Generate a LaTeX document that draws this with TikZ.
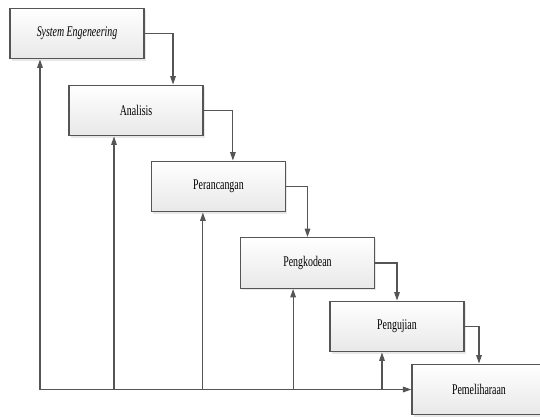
\documentclass[tikz,border=0pt]{standalone}
\usepackage{fontspec}
\usepackage{xcolor}
\usepackage{tikz}
\usetikzlibrary{positioning,calc,shadows,arrows.meta}
\newfontfamily\boxfont{Liberation Serif}[FakeStretch=0.67]
\definecolor{linegray}{HTML}{555555}
\tikzset{
  phase/.style={draw=linegray, line width=0.8pt, top color=white, bottom color=gray!18,
    minimum width=3.35cm, minimum height=1.27cm, font=\boxfont\fontsize{10.5}{12}\selectfont,
    drop shadow={shadow xshift=1.2pt, shadow yshift=-1.2pt, fill=gray!35}},
  flow/.style={draw=linegray, line width=0.8pt, -{Triangle[length=6pt,width=4pt]}},
  back/.style={draw=linegray, line width=0.8pt, {Triangle[length=6pt,width=4pt]}-}
}

\begin{document}
\begin{tikzpicture}[x=0.025cm, y=-0.025cm]
    \useasboundingbox (0,0) rectangle (540,416);

    % Phases
    \node[phase] (sys) at (77,33.5) {\itshape System Engeneering};
    \node[phase] (ana) at (136,110.5) {Analisis};
    \node[phase] (ran) at (218.5,186.5) {Perancangan};
    \node[phase] (kod) at (307.5,263) {Pengkodean};
    \node[phase] (uji) at (397,326.5) {Pengujian};
    \node[phase] (pem) at (479,389.5) {Pemeliharaan};

    % Forward flow
    \draw[flow] (sys.east) -| ([xshift=0.925cm]ana.north);
    \draw[flow] (ana.east) -| ([xshift=0.36cm]ran.north);
    \draw[flow] (ran.east) -| (kod.north);
    \draw[flow] (kod.east) -| (uji.north);
    \draw[flow] (uji.east) -| (pem.north);

    % Feedback lines
    \draw[flow, {Triangle[length=6pt,width=4pt]}-{Triangle[length=6pt,width=4pt]}]
        ([xshift=-0.925cm]sys.south) |- (pem.west);
    \draw[back] ([xshift=-0.55cm]ana.south) -- ([xshift=-0.55cm]ana.south |- pem.west);
    \draw[back] ([xshift=-0.39cm]ran.south) -- ([xshift=-0.39cm]ran.south |- pem.west);
    \draw[back] ([xshift=-0.36cm]kod.south) -- ([xshift=-0.36cm]kod.south |- pem.west);
    \draw[back] ([xshift=-0.375cm]uji.south) -- ([xshift=-0.375cm]uji.south |- pem.west);

\end{tikzpicture}
\end{document}
